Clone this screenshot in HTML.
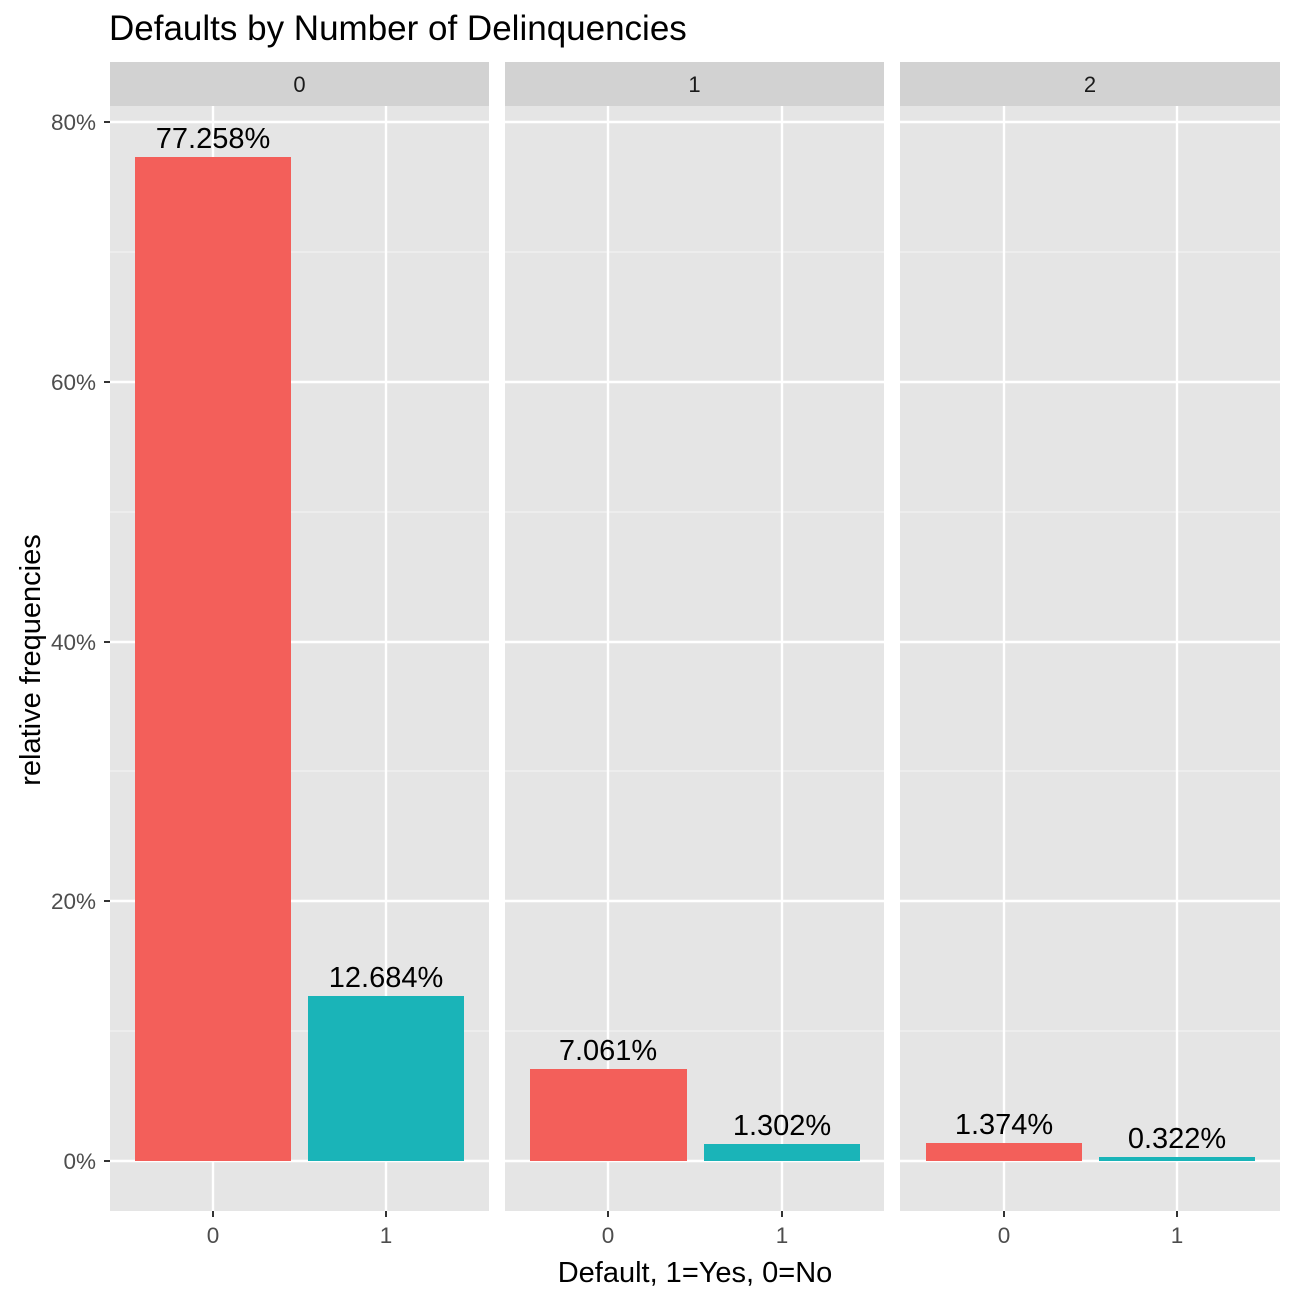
<!DOCTYPE html>
<html><head><meta charset="utf-8"><style>body{margin:0;background:#fff}svg{display:block}</style></head><body>
<svg width="1296" height="1296" xmlns="http://www.w3.org/2000/svg" font-family="Liberation Sans, Arial, sans-serif">
<rect width="1296" height="1296" fill="#fff"/>
<text x="109" y="40" font-size="35" fill="#000">Defaults by Number of Delinquencies</text>
<rect x="110" y="106" width="379" height="1105" fill="#e5e5e5"/>
<rect x="505" y="106" width="379" height="1105" fill="#e5e5e5"/>
<rect x="900" y="106" width="380" height="1105" fill="#e5e5e5"/>
<rect x="110" y="62" width="379" height="44" fill="#d2d2d2"/>
<rect x="505" y="62" width="379" height="44" fill="#d2d2d2"/>
<rect x="900" y="62" width="380" height="44" fill="#d2d2d2"/>
<g font-size="22" fill="#1a1a1a" text-anchor="middle">
<text x="299.5" y="92">0</text>
<text x="694.5" y="92">1</text>
<text x="1090" y="92">2</text>
</g>
<g stroke="#f2f2f2" stroke-width="1.2">
<path d="M110 1031H489M110 771H489M110 512H489M110 252H489"/>
<path d="M505 1031H884M505 771H884M505 512H884M505 252H884"/>
<path d="M900 1031H1280M900 771H1280M900 512H1280M900 252H1280"/>
</g>
<g stroke="#fff" stroke-width="2.4">
<path d="M110 1161H489M110 901H489M110 642H489M110 382H489M110 122H489"/>
<path d="M505 1161H884M505 901H884M505 642H884M505 382H884M505 122H884"/>
<path d="M900 1161H1280M900 901H1280M900 642H1280M900 382H1280M900 122H1280"/>
<path d="M213 106V1211M386 106V1211M608 106V1211M782 106V1211M1004 106V1211M1177 106V1211"/>
</g>
<rect x="135" y="157" width="156" height="1004" fill="#F35F5A"/>
<rect x="308" y="996" width="156" height="165" fill="#1AB4B8"/>
<rect x="530" y="1069" width="157" height="92" fill="#F35F5A"/>
<rect x="704" y="1144" width="156" height="17" fill="#1AB4B8"/>
<rect x="926" y="1143" width="156" height="18" fill="#F35F5A"/>
<rect x="1099" y="1157" width="156" height="4" fill="#1AB4B8"/>
<g font-size="29" fill="#000" text-anchor="middle">
<text x="213" y="148">77.258%</text>
<text x="386" y="987">12.684%</text>
<text x="608" y="1060">7.061%</text>
<text x="782" y="1135">1.302%</text>
<text x="1004" y="1134">1.374%</text>
<text x="1177" y="1148">0.322%</text>
</g>
<g stroke="#333" stroke-width="2"><path d="M104 1161H110M104 901H110M104 642H110M104 382H110M104 122H110"/>
<path d="M213 1211V1217M386 1211V1217M608 1211V1217M782 1211V1217M1004 1211V1217M1177 1211V1217"/></g>
<g font-size="22.5" fill="#4d4d4d" text-anchor="end">
<text x="96" y="1169">0%</text><text x="96" y="909">20%</text><text x="96" y="650">40%</text><text x="96" y="390">60%</text><text x="96" y="130">80%</text>
</g>
<g font-size="22.5" fill="#4d4d4d" text-anchor="middle">
<text x="213" y="1243">0</text><text x="386" y="1243">1</text><text x="608" y="1243">0</text><text x="782" y="1243">1</text><text x="1004" y="1243">0</text><text x="1177" y="1243">1</text>
</g>
<text x="695" y="1282" font-size="29" fill="#000" text-anchor="middle">Default, 1=Yes, 0=No</text>
<text transform="translate(40,660) rotate(-90)" font-size="29" fill="#000" text-anchor="middle">relative frequencies</text>
</svg>
</body></html>
